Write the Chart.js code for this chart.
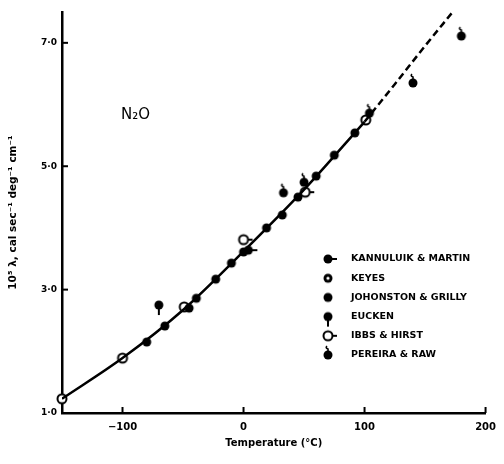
<!DOCTYPE html>
<html>
<head>
<meta charset="utf-8">
<script src="https://cdn.jsdelivr.net/npm/chart.js@4"></script>
<style>
  html, body { margin: 0; padding: 0; background: #fff; }
  #wrap { width: 504px; height: 464px; }
</style>
</head>
<body>
<div id="wrap"><canvas id="n2oChart" width="504" height="464"></canvas></div>
<script>
// DATA
const curveT = [-150, -100, -50, 0, 50, 100];
const curveL = [1.23, 1.89, 2.67, 3.62, 4.62, 5.72];
const dashT = [100, 125, 150, 172];
const dashL = [5.72, 6.33, 6.95, 7.48];

const kannuluikT = [4];
const kannuluikL = [3.64];
const keyesT = [-150, -100, -49, 101];
const keyesL = [1.23, 1.89, 2.72, 5.75];
const johnstonT = [-80, -65, -45, -39, -23, -10, 0, 19, 32, 45, 60, 75, 92];
const johnstonL = [2.15, 2.41, 2.70, 2.86, 3.17, 3.43, 3.61, 4.00, 4.21, 4.50, 4.84, 5.18, 5.54];
const euckenT = [-70];
const euckenL = [2.75];
const ibbsT = [0, 51];
const ibbsL = [3.81, 4.58];
const pereiraT = [33, 50, 104, 140, 180];
const pereiraL = [4.57, 4.74, 5.86, 6.35, 7.11];

const xTicks = [-100, 0, 100, 200];
const yTicks = [1, 3, 5, 7];

const legendNames = ["KANNULUIK & MARTIN", "KEYES", "JOHONSTON & GRILLY", "EUCKEN", "IBBS & HIRST", "PEREIRA & RAW"];

// MARKERS
function marker(kind) {
  const c = document.createElement("canvas");
  c.width = 24; c.height = 24;
  const g = c.getContext("2d");
  const cx = 12, cy = 12, r = 4.5;
  g.strokeStyle = "#000";
  g.fillStyle = "#000";
  g.lineWidth = 2;
  if (kind === "tailRight" || kind === "openTailRight") {
    g.beginPath(); g.moveTo(cx, cy); g.lineTo(cx + 9, cy); g.stroke();
  }
  if (kind === "tailDown") {
    g.beginPath(); g.moveTo(cx, cy); g.lineTo(cx, cy + 10); g.stroke();
  }
  if (kind === "hook") {
    g.lineWidth = 1.6;
    g.beginPath();
    g.moveTo(cx, cy - 3);
    g.lineTo(cx, cy - 6);
    g.quadraticCurveTo(cx - 3, cy - 7, cx - 1, cy - 9);
    g.stroke();
    g.lineWidth = 2;
  }
  g.beginPath();
  g.arc(cx, cy, r, 0, Math.PI * 2);
  if (kind === "open" || kind === "openTailRight") {
    g.fillStyle = "#fff"; g.fill(); g.stroke();
  } else if (kind === "keyes") {
    g.fill();
    g.fillStyle = "#fff";
    g.beginPath(); g.arc(cx, cy, 1.6, 0, Math.PI * 2); g.fill();
  } else {
    g.fill();
  }
  return c;
}

const mk = {
  kannuluik: marker("tailRight"),
  keyes: marker("keyes"),
  keyesPlot: marker("open"),
  johnston: marker("filled"),
  eucken: marker("tailDown"),
  ibbs: marker("openTailRight"),
  pereira: marker("hook")
};
const legendMarks = [mk.kannuluik, mk.keyes, mk.johnston, mk.eucken, mk.ibbs, mk.pereira];

const pts = (xs, ys) => xs.map((x, i) => ({ x: x, y: ys[i] }));

function pointSet(label, xs, ys, style) {
  return {
    type: "scatter",
    label: label,
    data: pts(xs, ys),
    pointStyle: style,
    pointRadius: 5,
    showLine: false,
    clip: false
  };
}

// LEGEND + LABEL + INWARD TICKS
const extras = {
  id: "extras",
  afterDraw(chart) {
    const g = chart.ctx;
    const xs = chart.scales.x, ys = chart.scales.y;
    g.save();
    g.strokeStyle = "#000";
    g.lineWidth = 2;
    xTicks.forEach(v => {
      const px = xs.getPixelForValue(v);
      g.beginPath(); g.moveTo(px, ys.bottom); g.lineTo(px, ys.bottom - 6); g.stroke();
    });
    yTicks.slice(1).forEach(v => {
      const py = ys.getPixelForValue(v);
      g.beginPath(); g.moveTo(xs.left, py); g.lineTo(xs.left + 6, py); g.stroke();
    });

    g.fillStyle = "#000";
    g.font = "15px 'DejaVu Sans'";
    g.textBaseline = "middle";
    g.fillText("N₂O", 121, 115);

    g.font = "bold 9.5px 'DejaVu Sans'";
    legendNames.forEach((name, i) => {
      const y = 259 + i * 19.2;
      g.drawImage(legendMarks[i], 328 - 12, y - 12);
      g.fillText(name, 351, y);
    });
    g.restore();
  }
};

const ctx = document.getElementById("n2oChart");

new Chart(ctx, {
  data: {
    datasets: [
      {
        type: "line",
        label: "curve",
        data: pts(curveT, curveL),
        borderColor: "#000",
        borderWidth: 2.5,
        pointRadius: 0,
        cubicInterpolationMode: "monotone"
      },
      {
        type: "line",
        label: "extrapolated",
        data: pts(dashT, dashL),
        borderColor: "#000",
        borderWidth: 2.5,
        borderDash: [7, 4],
        pointRadius: 0,
        cubicInterpolationMode: "monotone"
      },
      pointSet(legendNames[2], johnstonT, johnstonL, mk.johnston),
      pointSet(legendNames[0], kannuluikT, kannuluikL, mk.kannuluik),
      pointSet(legendNames[3], euckenT, euckenL, mk.eucken),
      pointSet(legendNames[5], pereiraT, pereiraL, mk.pereira),
      pointSet(legendNames[1], keyesT, keyesL, mk.keyesPlot),
      pointSet(legendNames[4], ibbsT, ibbsL, mk.ibbs)
    ]
  },
  options: {
    responsive: false,
    animation: false,
    layout: { padding: { top: 12, right: 7, left: 0, bottom: 0 } },
    plugins: {
      legend: { display: false },
      tooltip: { enabled: false }
    },
    scales: {
      x: {
        type: "linear",
        min: -150,
        max: 200,
        afterBuildTicks: s => { s.ticks = xTicks.map(v => ({ value: v })); },
        afterFit: s => { s.height = 51; },
        grid: { display: false, drawTicks: false },
        border: { display: true, color: "#000", width: 2.5 },
        ticks: {
          padding: 8,
          color: "#000",
          font: { family: "DejaVu Sans", weight: "bold", size: 10 },
          callback: v => v < 0 ? "−" + Math.abs(v) : String(v)
        },
        title: {
          display: true,
          text: "Temperature (°C)",
          color: "#000",
          font: { family: "DejaVu Sans", weight: "bold", size: 10 },
          padding: { top: 0, bottom: 15 }
        }
      },
      y: {
        type: "linear",
        min: 1,
        max: 7.5,
        afterBuildTicks: s => { s.ticks = yTicks.map(v => ({ value: v })); },
        afterFit: s => { s.width = 62; },
        grid: { display: false, drawTicks: false },
        border: { display: true, color: "#000", width: 2.5 },
        ticks: {
          padding: 5,
          color: "#000",
          font: { family: "DejaVu Sans", weight: "bold", size: 9 },
          callback: v => v.toFixed(1).replace(".", "·")
        },
        title: {
          display: true,
          text: "10⁵ λ, cal sec⁻¹ deg⁻¹ cm⁻¹",
          color: "#000",
          font: { family: "DejaVu Sans", weight: "bold", size: 10.5 },
          padding: { top: 7, bottom: 0 }
        }
      }
    }
  },
  plugins: [extras]
});
</script>
</body>
</html>
